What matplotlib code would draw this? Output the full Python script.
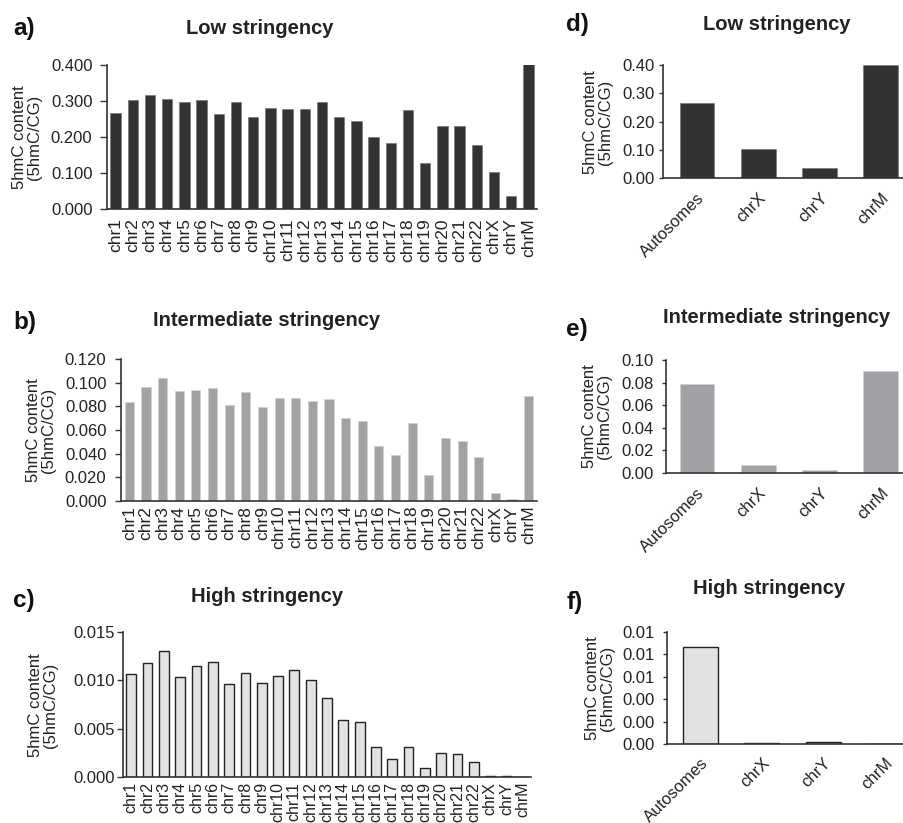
import matplotlib
matplotlib.use("Agg")
import matplotlib.pyplot as plt
from matplotlib.ticker import FixedLocator, FormatStrFormatter

plt.rcParams['font.family'] = ['Liberation Sans', 'DejaVu Sans']

chroms = ['chr1', 'chr2', 'chr3', 'chr4', 'chr5', 'chr6', 'chr7', 'chr8', 'chr9',
          'chr10', 'chr11', 'chr12', 'chr13', 'chr14', 'chr15', 'chr16', 'chr17',
          'chr18', 'chr19', 'chr20', 'chr21', 'chr22', 'chrX', 'chrY', 'chrM']
low_chr = [0.268, 0.303, 0.318, 0.306, 0.298, 0.302, 0.265, 0.298, 0.256,
           0.281, 0.278, 0.277, 0.298, 0.256, 0.244, 0.200, 0.182,
           0.275, 0.128, 0.231, 0.230, 0.178, 0.103, 0.036, 0.402]
mid_chr = [0.0839, 0.0964, 0.1039, 0.0931, 0.0939, 0.0953, 0.0808, 0.0925, 0.0794,
           0.0872, 0.0872, 0.0847, 0.0858, 0.0703, 0.0678, 0.0467, 0.0392,
           0.0658, 0.0219, 0.0531, 0.0503, 0.0370, 0.0070, 0.0020, 0.0890]
high_chr = [0.01062, 0.0118, 0.01308, 0.01038, 0.01149, 0.01187, 0.00962, 0.01073, 0.00969,
            0.01042, 0.01107, 0.0100, 0.0082, 0.00585, 0.00567, 0.00311, 0.00187,
            0.00311, 0.00093, 0.00249, 0.00242, 0.0016, 0.0001, 0.00015, 0.00003]

groups = ['Autosomes', 'chrX', 'chrY', 'chrM']
low_grp = [0.265, 0.1035, 0.0365, 0.400]
mid_grp = [0.079, 0.0071, 0.0027, 0.090]
high_grp = [0.0087, 0.0001, 0.00015, 0.0]

dark = '#333333'
mid = '#a1a2a6'
light = '#e1e2e4'
axcol = '#333333'
txt = '#222222'

W, H = 904, 823
fig = plt.figure(figsize=(W / 100, H / 100), dpi=100)


def ax_px(l, t, r, b):
    return fig.add_axes([l / W, 1 - b / H, (r - l) / W, (b - t) / H])


def style(ax, ticks, fmt, ylim, ylen, ypad):
    for s in ['top', 'right']:
        ax.spines[s].set_visible(False)
    for s in ['left', 'bottom']:
        ax.spines[s].set_color(axcol)
        ax.spines[s].set_linewidth(1.2)
    ax.set_ylim(*ylim)
    ax.yaxis.set_major_locator(FixedLocator(ticks))
    ax.yaxis.set_major_formatter(FormatStrFormatter(fmt))
    ax.tick_params(axis='y', length=ylen, width=1.0, color=axcol, labelsize=12,
                   labelcolor=txt, pad=ypad)
    ax.tick_params(axis='x', length=0, labelcolor=txt)


def left_panel(box, vals, color, edge, lw, width, ticks, fmt, ylim, ylen, ypad, xpad,
               xfs=12.5):
    ax = ax_px(*box)
    x = list(range(len(chroms)))
    ax.bar(x, vals, width=width, color=color, edgecolor=edge, linewidth=lw, zorder=2)
    ax.set_xlim(-0.5, len(chroms) - 0.5)
    style(ax, ticks, fmt, ylim, ylen, ypad)
    ax.set_xticks(x)
    ax.set_xticklabels(chroms, rotation=90, fontsize=xfs, va='top', ha='center')
    ax.tick_params(axis='x', pad=xpad)
    return ax


def right_panel(box, vals, color, edge, lw, xlim, ticks, fmt, ylim, ylen, ypad, xpad):
    ax = ax_px(*box)
    x = list(range(len(groups)))
    ax.bar(x, vals, width=0.57, color=color, edgecolor=edge, linewidth=lw, zorder=2)
    ax.set_xlim(*xlim)
    style(ax, ticks, fmt, ylim, ylen, ypad)
    ax.set_xticks(x)
    ax.set_xticklabels(groups, rotation=45, fontsize=12, ha='right', va='top',
                       rotation_mode='anchor')
    ax.tick_params(axis='x', pad=xpad)
    return ax


# Left column
left_panel((107, 65, 537, 209), low_chr, dark, '#777777', 0.5, 0.6,
           [0, 0.1, 0.2, 0.3, 0.4], '%.3f', (0, 0.4), 5, 5.5, 6.5)
left_panel((121, 359, 537, 501), mid_chr, mid, '#d0d0d0', 0.5, 0.55,
           [0, 0.02, 0.04, 0.06, 0.08, 0.10, 0.12], '%.3f', (0, 0.12), 4, 6.5, 3.5)
left_panel((123, 632, 531, 777), high_chr, light, '#222222', 1.0, 0.6,
           [0, 0.005, 0.010, 0.015], '%.3f', (0, 0.015), 4, 1.5, 3.5, xfs=11.5)

# Right column
right_panel((663, 65, 903, 178), low_grp, dark, '#777777', 0.5, (-0.555, 3.36),
            [0, 0.1, 0.2, 0.3, 0.4], '%.2f', (0, 0.4), 3, 3, 9)
right_panel((666, 360, 903, 473), mid_grp, mid, '#d0d0d0', 0.5, (-0.506, 3.36),
            [0, 0.02, 0.04, 0.06, 0.08, 0.10], '%.2f', (0, 0.10), 3, 6, 9)
right_panel((667, 632, 903, 744), high_grp, light, '#222222', 1.0, (-0.547, 3.30),
            [0, 0.002, 0.004, 0.006, 0.008, 0.010], '%.2f', (0, 0.010), 3, 6, 8)


def ftext(x, y, s, **kw):
    fig.text(x / W, 1 - y / H, s, **kw)


ylab = '5hmC content\n(5hmC/CG)'
for (x, y) in [(27, 137), (41, 430), (43, 705), (598, 122), (597, 416), (600, 688)]:
    ftext(x, y, ylab, rotation=90, ha='center', va='center', fontsize=12,
          color=txt, linespacing=1.0)

titles = [(260, 28, 'Low stringency'), (267, 320, 'Intermediate stringency'),
          (267, 596, 'High stringency'), (777, 25, 'Low stringency'),
          (777, 318, 'Intermediate stringency'), (769, 588, 'High stringency')]
for x, y, s in titles:
    ftext(x, y, s, ha='center', va='center', fontsize=14.5, fontweight='bold',
          color=txt)

letters = [(13, 29, 'a)'), (13, 322, 'b)'), (13, 600, 'c)'),
           (566, 25, 'd)'), (566, 330, 'e)'), (567, 602, 'f)')]
for x, y, s in letters:
    ftext(x, y, s, ha='left', va='center', fontsize=17.5, fontweight='bold',
          color='#111111')

fig.savefig('out.png', dpi=100)
